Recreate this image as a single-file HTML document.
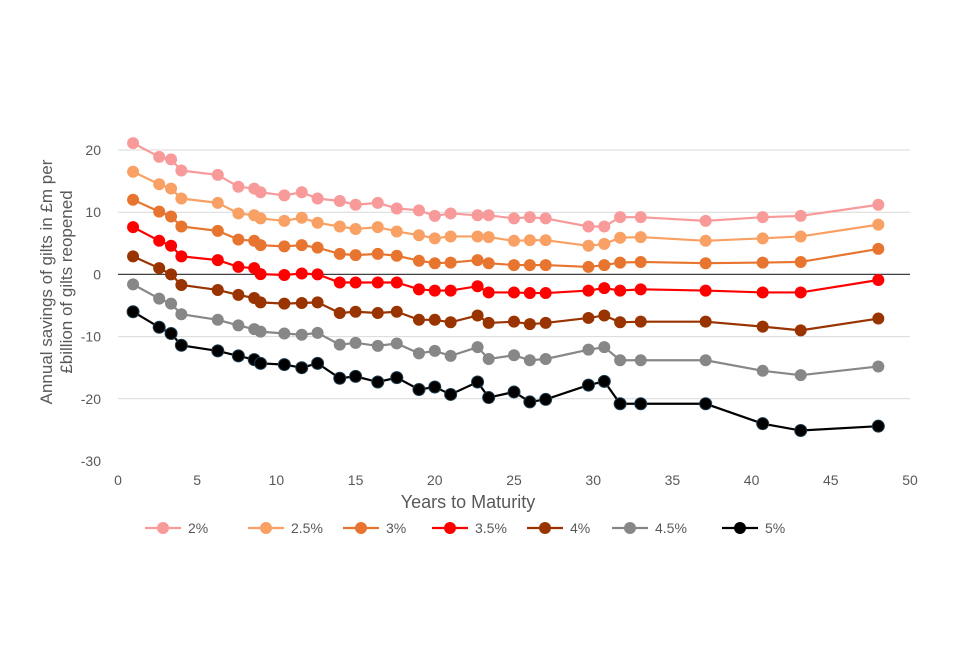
<!DOCTYPE html>
<html><head><meta charset="utf-8"><style>
body{margin:0;background:#fff;font-family:"Liberation Sans",sans-serif}
svg text{fill:#595959;font-family:"Liberation Sans",sans-serif}
</style></head><body>
<svg id="chart" width="960" height="640"></svg>
<script>
const years=[0.95,2.6,3.35,4.0,6.3,7.6,8.6,9.0,10.5,11.6,12.6,14.0,15.0,16.4,17.6,19.0,20.0,21.0,22.7,23.4,25.0,26.0,27.0,29.7,30.7,31.7,33.0,37.1,40.7,43.1,48.0];
const s2=[21.1,18.9,18.5,16.7,16.0,14.1,13.8,13.2,12.7,13.2,12.2,11.8,11.2,11.5,10.6,10.3,9.4,9.8,9.5,9.5,9.0,9.2,9.0,7.7,7.7,9.2,9.2,8.6,9.2,9.4,11.2];
const s25=[16.5,14.5,13.8,12.2,11.5,9.8,9.5,9.0,8.6,9.1,8.3,7.7,7.3,7.6,6.9,6.3,5.8,6.1,6.1,6.0,5.4,5.5,5.5,4.6,4.9,5.9,6.0,5.4,5.8,6.1,8.0];
const s3=[12.0,10.1,9.3,7.7,7.0,5.6,5.4,4.7,4.5,4.7,4.3,3.3,3.1,3.3,3.0,2.2,1.8,1.9,2.3,1.8,1.5,1.5,1.5,1.2,1.5,1.9,2.0,1.8,1.9,2.0,4.1];
const s35=[7.6,5.4,4.6,2.9,2.3,1.2,1.0,0.05,-0.1,0.15,0,-1.3,-1.3,-1.3,-1.3,-2.4,-2.6,-2.6,-1.9,-2.9,-2.9,-3.0,-3.0,-2.6,-2.2,-2.6,-2.4,-2.6,-2.9,-2.9,-0.9];
const s4=[2.9,1.0,0,-1.7,-2.5,-3.3,-3.8,-4.5,-4.7,-4.6,-4.5,-6.2,-6.0,-6.2,-6.0,-7.3,-7.3,-7.7,-6.6,-7.8,-7.6,-8.0,-7.8,-7.0,-6.6,-7.7,-7.6,-7.6,-8.4,-9.0,-7.1];
const s45=[-1.6,-3.9,-4.7,-6.4,-7.3,-8.2,-8.8,-9.2,-9.5,-9.7,-9.4,-11.3,-11.0,-11.5,-11.1,-12.7,-12.3,-13.1,-11.7,-13.6,-13.0,-13.8,-13.6,-12.1,-11.7,-13.8,-13.8,-13.8,-15.5,-16.2,-14.8];
const s5=[-6.0,-8.5,-9.5,-11.4,-12.3,-13.1,-13.7,-14.3,-14.5,-15.0,-14.3,-16.7,-16.4,-17.3,-16.6,-18.5,-18.1,-19.3,-17.3,-19.8,-18.9,-20.5,-20.1,-17.8,-17.2,-20.8,-20.8,-20.8,-24.0,-25.1,-24.4];
const seriesNames=["2%","2.5%","3%","3.5%","4%","4.5%","5%"];
const seriesColors=["#f89a9a","#f9a064","#e8752f","#ff0000","#993300","#878787","#000000"];
const xTicks=[0,5,10,15,20,25,30,35,40,45,50];
const yTicks=[20,10,0,-10,-20,-30];
const allSeries=[s2,s25,s3,s35,s4,s45,s5];
const NS="http://www.w3.org/2000/svg";
const svg=document.getElementById('chart');
const X0=118,X1=910,Y0=461,Y1=150;
const xs=v=>X0+(v-0)/(50-0)*(X1-X0);
const ys=v=>Y0-(v+30)/(20+30)*(Y0-Y1);
function mk(t,a){const e=document.createElementNS(NS,t);for(const k in a)e.setAttribute(k,a[k]);svg.appendChild(e);return e;}
yTicks.forEach(t=>{
 if(t!==0&&t!==-30){const g=mk('line',{x1:X0,x2:X1,y1:ys(t),y2:ys(t),stroke:'#d9d9d9','stroke-width':1});
 
 }
 const l=mk('text',{x:101,y:ys(t)+5,'text-anchor':'end','font-size':14});l.textContent=t;
 
 
});
xTicks.forEach(t=>{
 const l=mk('text',{x:xs(t),y:485,'text-anchor':'middle','font-size':14});l.textContent=t;
 
 
});
const za=mk('line',{x1:X0,x2:X1,y1:ys(0),y2:ys(0),stroke:'#404040','stroke-width':1.3});


allSeries.forEach((s,i)=>{
 const c=seriesColors[i];
 const p=mk('polyline',{points:s.map((v,j)=>xs(years[j])+','+ys(v)).join(' '),fill:'none',stroke:c,'stroke-width':2.2});
 
 
 s.forEach((v,j)=>{const m=mk('circle',{cx:xs(years[j]),cy:ys(v),r:6,fill:c,stroke:i===6?'#1f3b4d':'none','stroke-width':1});
 
 });
});
const xt=mk('text',{x:468,y:508,'text-anchor':'middle','font-size':18});xt.textContent='Years to Maturity';


const yt=mk('text',{transform:'translate(58,282) rotate(-90)','text-anchor':'middle','font-size':17});


const t1=document.createElementNS(NS,'tspan');t1.setAttribute('x',0);t1.setAttribute('dy',-6);t1.textContent='Annual savings of gilts in £m per';yt.appendChild(t1);
const t2=document.createElementNS(NS,'tspan');t2.setAttribute('x',0);t2.setAttribute('dy',20);t2.textContent='£billion of gilts reopened';yt.appendChild(t2);
const legX=[145,248,343,432,527,612,722];
seriesNames.forEach((n,i)=>{
 const c=seriesColors[i],x=legX[i],y=528;
 const l=mk('line',{x1:x,x2:x+36,y1:y,y2:y,stroke:c,'stroke-width':2.2});
 
 
 const m=mk('circle',{cx:x+18,cy:y,r:6,fill:c});
 
 
 const t=mk('text',{x:x+43,y:y+5,'font-size':14});t.textContent=n;
 
 
});
</script>
</body></html>
